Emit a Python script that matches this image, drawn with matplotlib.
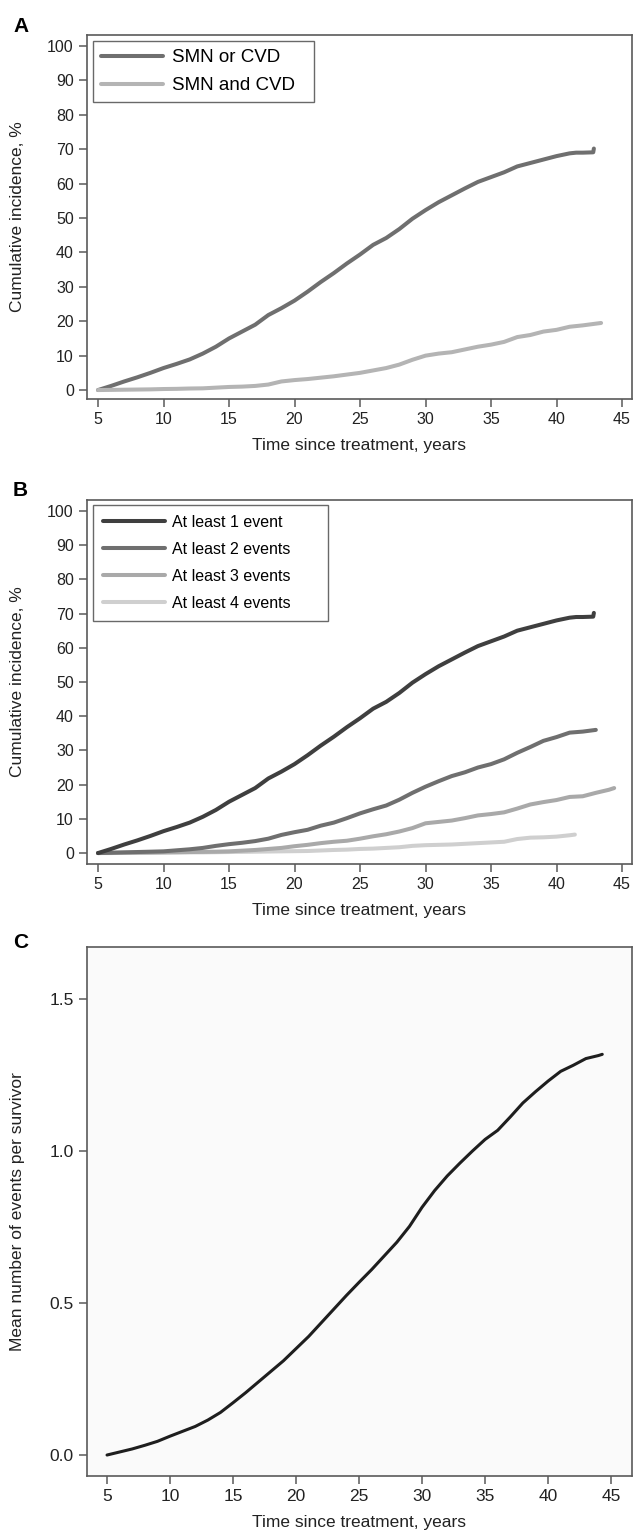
import numpy as np
import matplotlib
matplotlib.use("Agg")
import matplotlib.pyplot as plt

plt.rcParams['font.family'] = ['Liberation Sans', 'DejaVu Sans']

# panel A / B: cumulative incidence (%)
t_any = [5, 6, 7, 8, 9, 10, 11, 12, 13, 14, 15, 16, 17, 18, 19, 20, 21, 22, 23, 24, 25,
         26, 27, 28, 29, 30, 31, 32, 33, 34, 35, 36, 37, 38, 39, 40, 41, 41.5, 42, 42.8, 42.85]
v_any = [0, 1.2, 2.5, 3.7, 5.0, 6.4, 7.6, 8.9, 10.6, 12.6, 15.0, 17.0, 19.0, 21.8, 23.8, 26.0,
         28.6, 31.4, 34.0, 36.8, 39.4, 42.2, 44.2, 46.8, 49.8, 52.3, 54.6, 56.6, 58.6, 60.5,
         61.9, 63.3, 65.0, 66.0, 67.0, 68.0, 68.8, 69.0, 69.0, 69.1, 70.2]

t_both = [5, 6, 7, 8, 9, 10, 11, 12, 13, 14, 15, 16, 17, 18, 19, 20, 21, 22, 23, 24, 25, 26,
          27, 28, 29, 30, 31, 32, 33, 34, 35, 36, 37, 38, 39, 40, 41, 42, 43, 43.4]
v_both = [0, 0.05, 0.1, 0.15, 0.2, 0.3, 0.35, 0.45, 0.5, 0.7, 0.9, 1.0, 1.2, 1.6, 2.5, 2.9,
          3.2, 3.6, 4.0, 4.5, 5.0, 5.7, 6.4, 7.4, 8.8, 10.0, 10.6, 11.0, 11.8, 12.6, 13.2, 14.0,
          15.4, 16.0, 17.0, 17.5, 18.4, 18.8, 19.3, 19.5]

t_2 = list(range(5, 44))
v_2 = [0, 0.1, 0.2, 0.3, 0.4, 0.5, 0.8, 1.1, 1.5, 2.1, 2.6, 3.0, 3.5, 4.2, 5.3, 6.1, 6.8,
       8.0, 8.9, 10.2, 11.6, 12.8, 13.9, 15.6, 17.6, 19.4, 21.0, 22.5, 23.6, 25.0, 26.0,
       27.4, 29.3, 31.0, 32.8, 33.9, 35.2, 35.5, 36.0]

t_3 = list(range(5, 45)) + [44.4]
v_3 = [0, 0.05, 0.1, 0.1, 0.15, 0.2, 0.25, 0.3, 0.35, 0.4, 0.5, 0.7, 0.9, 1.2, 1.5, 2.0,
       2.4, 2.9, 3.3, 3.6, 4.2, 4.9, 5.5, 6.3, 7.3, 8.7, 9.1, 9.5, 10.2, 11.0, 11.4, 11.9,
       13.0, 14.2, 14.9, 15.5, 16.4, 16.6, 17.6, 18.5, 19.0]

t_4 = list(range(5, 42)) + [41.4]
v_4 = [0, 0, 0.05, 0.1, 0.1, 0.15, 0.15, 0.2, 0.2, 0.25, 0.3, 0.35, 0.4, 0.45, 0.5, 0.55,
       0.6, 0.75, 0.9, 1.0, 1.2, 1.3, 1.5, 1.7, 2.1, 2.3, 2.4, 2.5, 2.7, 2.9, 3.1, 3.3, 4.1,
       4.5, 4.6, 4.8, 5.2, 5.4]

# panel C: mean number of events
t_mean = list(range(5, 45)) + [44.3]
v_mean = [0, 0.01, 0.02, 0.032, 0.045, 0.062, 0.078, 0.094, 0.115, 0.14, 0.172, 0.205,
          0.24, 0.275, 0.31, 0.35, 0.39, 0.435, 0.48, 0.525, 0.568, 0.61, 0.655, 0.70, 0.752,
          0.815, 0.87, 0.918, 0.96, 1.0, 1.038, 1.068, 1.112, 1.158, 1.195, 1.23, 1.262, 1.282,
          1.304, 1.314, 1.318]

W, H = 633, 1537
fig = plt.figure(figsize=(W / 100, H / 100), dpi=100)


def add_ax(left, top, right, bottom):
    return fig.add_axes([left / W, 1 - bottom / H, (right - left) / W, (bottom - top) / H])


def style(ax, xlim, ylim, yticks, ylabel, yfmt, face='white'):
    ax.set_facecolor(face)
    for s in ax.spines.values():
        s.set_color('#5a5a5a')
        s.set_linewidth(1.2)
    ax.set_xlim(*xlim)
    ax.set_ylim(*ylim)
    ax.set_xticks(range(5, 50, 5))
    ax.set_yticks(yticks)
    ax.set_yticklabels([yfmt.format(y) for y in yticks])
    ax.tick_params(direction='out', length=6, width=1.1, color='#5a5a5a',
                   labelsize=11.5, labelcolor='#222222', pad=3.5)
    ax.set_xlabel('Time since treatment, years', fontsize=12.5, color='#222222', labelpad=8)
    ax.set_ylabel(ylabel, fontsize=12.5, color='#222222')
    ax.yaxis.set_label_coords(-0.114, 0.5)


def boxed_legend(ax, handles, labels, x0, width, top, fs, hl, ls, bp):
    leg = ax.legend(handles, labels, loc='upper left', bbox_to_anchor=(x0, 0, width, top),
                    mode='expand', borderaxespad=0, fontsize=fs, frameon=True,
                    fancybox=False, edgecolor='#444444', handlelength=hl,
                    handletextpad=0.45, borderpad=bp, labelspacing=ls)
    leg.get_frame().set_linewidth(1.0)
    return leg


lw = 2.9

# Panel A
axA = add_ax(87, 35, 632, 399)
style(axA, (4.16, 45.76), (-2.6, 103.2), range(0, 101, 10), 'Cumulative incidence, %', '{:d}')
axA.plot(t_any, v_any, color='#6f6f6f', lw=lw, solid_capstyle='round', label='SMN or CVD')
axA.plot(t_both, v_both, color='#b4b4b4', lw=lw, solid_capstyle='round', label='SMN and CVD')
h, l = axA.get_legend_handles_labels()
boxed_legend(axA, h, l, 0.011, 0.4055, 0.9835, 13.5, 3.3, 0.57, 0.44)
fig.text(13 / W, 1 - 27 / H, 'A', fontsize=15, fontweight='bold', va='center')

# Panel B
axB = add_ax(87, 500, 632, 864)
style(axB, (4.16, 45.76), (-3.2, 103.2), range(0, 101, 10), 'Cumulative incidence, %', '{:d}')
axB.plot(t_4, v_4, color='#cfcfcf', lw=lw, solid_capstyle='round', label='At least 4 events')
axB.plot(t_3, v_3, color='#a9a9a9', lw=lw, solid_capstyle='round', label='At least 3 events')
axB.plot(t_2, v_2, color='#6f6f6f', lw=lw, solid_capstyle='round', label='At least 2 events')
axB.plot(t_any, v_any, color='#3f3f3f', lw=lw, solid_capstyle='round', label='At least 1 event')
h, l = axB.get_legend_handles_labels()
boxed_legend(axB, h[::-1], l[::-1], 0.011, 0.431, 0.986, 11.5, 3.9, 0.75, 0.62)
fig.text(13 / W, 1 - 490 / H, 'B', fontsize=15, fontweight='bold', va='center')

# Panel C
axC = add_ax(87, 947, 632, 1476)
style(axC, (3.41, 46.66), (-0.069, 1.671), [0, 0.5, 1.0, 1.5],
      'Mean number of events per survivor', '{:.1f}', face='#fafafa')
axC.tick_params(labelsize=12.5)
axC.plot(t_mean, v_mean, color='#1e1e1e', lw=2.2, solid_capstyle='round')
fig.text(13 / W, 1 - 942 / H, 'C', fontsize=15, fontweight='bold', va='center')

fig.savefig('out.png', dpi=100)
